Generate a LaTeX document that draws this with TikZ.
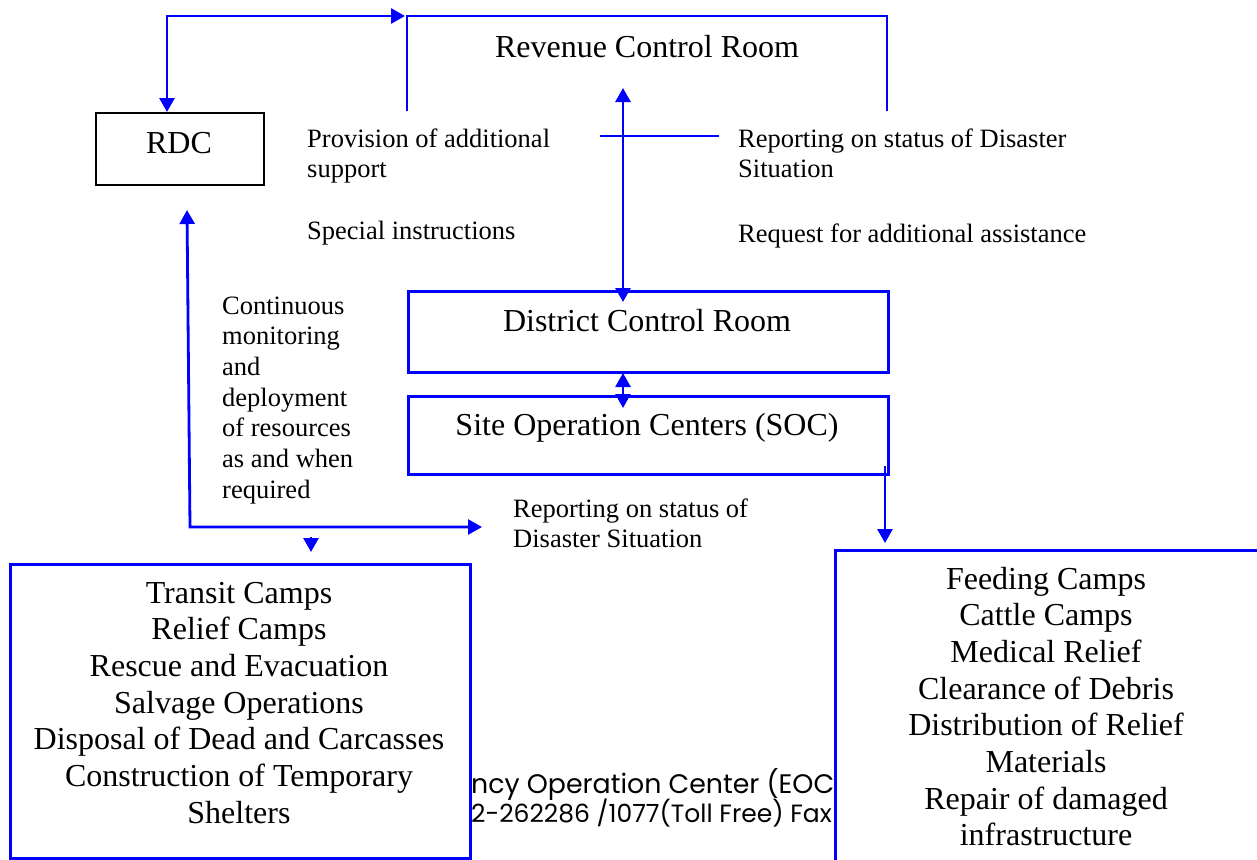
\documentclass[tikz,border=0pt]{standalone}
\usepackage{fontspec}
\setmainfont{Liberation Serif}
\newfontfamily\gothicfont{Poppins}
\usetikzlibrary{arrows.meta}
\newcommand\txtblock[2]{\begin{tabular}[t]{@{}#1@{}}#2\end{tabular}}
\begin{document}
\begin{tikzpicture}[x=1pt,y=-1pt,
  conn/.style={draw=blue, line width=2.8pt},
  onetip/.style={-{Triangle[length=14pt,width=15pt]}},
  twotips/.style={{Triangle[length=14pt,width=15pt]}-{Triangle[length=14pt,width=15pt]}},
  bluebox/.style={draw=blue, line width=2.8pt, fill=white, anchor=north west, inner sep=0pt},
  big/.style={font=\fontsize{32}{36.7}\selectfont, inner sep=0pt},
  small/.style={font=\fontsize{26.5}{30.7}\selectfont, inner sep=0pt, anchor=base west},
  eoc/.style={inner sep=0pt, anchor=base west, text=black},
]
\clip (0,0) rectangle (1257,859);
\useasboundingbox (0,0) rectangle (1257,859);

% partially hidden text behind the boxes
\node[eoc, font=\gothicfont\fontsize{26.8}{30}\selectfont] (eoc1) at (471,793) {ncy Operation Center (EOC};
\node[eoc, font=\gothicfont\fontsize{25}{30}\selectfont] (eoc2) at (471,822) {2-262286 /1077(Toll Free) Fax};

% boxes
\node[draw=black, line width=2pt, fill=white, anchor=north west, inner sep=0pt,
      minimum width=168pt, minimum height=72pt] (rdc) at (95,112) {};
\node[bluebox, minimum width=480pt, minimum height=81pt] (dcr) at (407,290) {};
\node[bluebox, minimum width=480pt, minimum height=78pt] (soc) at (407,395) {};
\node[bluebox, minimum width=460pt, minimum height=294pt] (lbox) at (9,563) {};
\node[bluebox, minimum width=460pt, minimum height=330pt] (rbox) at (834,549) {};

% texts
\node[big, anchor=base] (rcrt) at (647,58) {Revenue Control Room};
\node[big, anchor=base] (rdct) at (179,153) {RDC};
\node[big, anchor=base] (dcrt) at (647,331) {District Control Room};
\node[big, anchor=base] (soct) at (647,435) {Site Operation Centers (SOC)};
\node[small] (prov) at (307,147) {\txtblock{l}{Provision of additional\\support}};
\node[small] (spec) at (307,239) {Special instructions};
\node[small] (rep1) at (738,147) {\txtblock{l}{Reporting on status of Disaster\\Situation}};
\node[small] (req) at (738,242) {Request for additional assistance};
\node[small] (cont) at (222,314) {\txtblock{l}{Continuous\\monitoring\\and\\deployment\\of resources\\as and when\\required}};
\node[small] (rep2) at (513,517) {\txtblock{l}{Reporting on status of\\Disaster Situation}};
\node[big, anchor=base] (ltxt) at (239,603) {\txtblock{c}{Transit Camps\\Relief Camps\\Rescue and Evacuation\\Salvage Operations\\Disposal of Dead and Carcasses\\Construction of Temporary\\Shelters}};
\node[big, anchor=base] (rtxt) at (1046,589) {\txtblock{c}{Feeding Camps\\Cattle Camps\\Medical Relief\\Clearance of Debris\\Distribution of Relief\\Materials\\Repair of damaged\\infrastructure}};

% connector coordinates
\coordinate (topl) at (167,16);
\coordinate (topj) at (407,16);
\coordinate (topr) at (887,16);
\coordinate (rcrl) at (407,111);
\coordinate (rcrr) at (887,111);
\coordinate (up1) at (623,88);
\coordinate (dn1) at (623,302);
\coordinate (hl1) at (600,136);
\coordinate (hl2) at (719,136);
\coordinate (up2) at (623,373);
\coordinate (dn2) at (623,408);
\coordinate (socout) at (885,466);
\coordinate (rin) at (885,543);
\coordinate (lup) at (187,210);
\coordinate (lcorner) at (190,527);
\coordinate (lright) at (482,527);
\coordinate (ltop) at (311,537);
\coordinate (lin) at (311,552);

% connectors
\draw[conn, twotips] ([xshift=-2pt]topj) -- (topl) -- (rdc.north -| topl);
\draw[conn] (rcrl) -- (topj) -- (topr) -- (rcrr);
\draw[conn, twotips] (up1) -- (dn1);
\draw[conn] (hl1) -- (hl2);
\draw[conn, twotips] (up2) -- (dn2);
\draw[conn, onetip] (socout) -- (rin);
\draw[conn, twotips] (lup) -- (lcorner) -- (lright);
\draw[conn, onetip] (ltop) -- (lin);
\end{tikzpicture}
\end{document}
